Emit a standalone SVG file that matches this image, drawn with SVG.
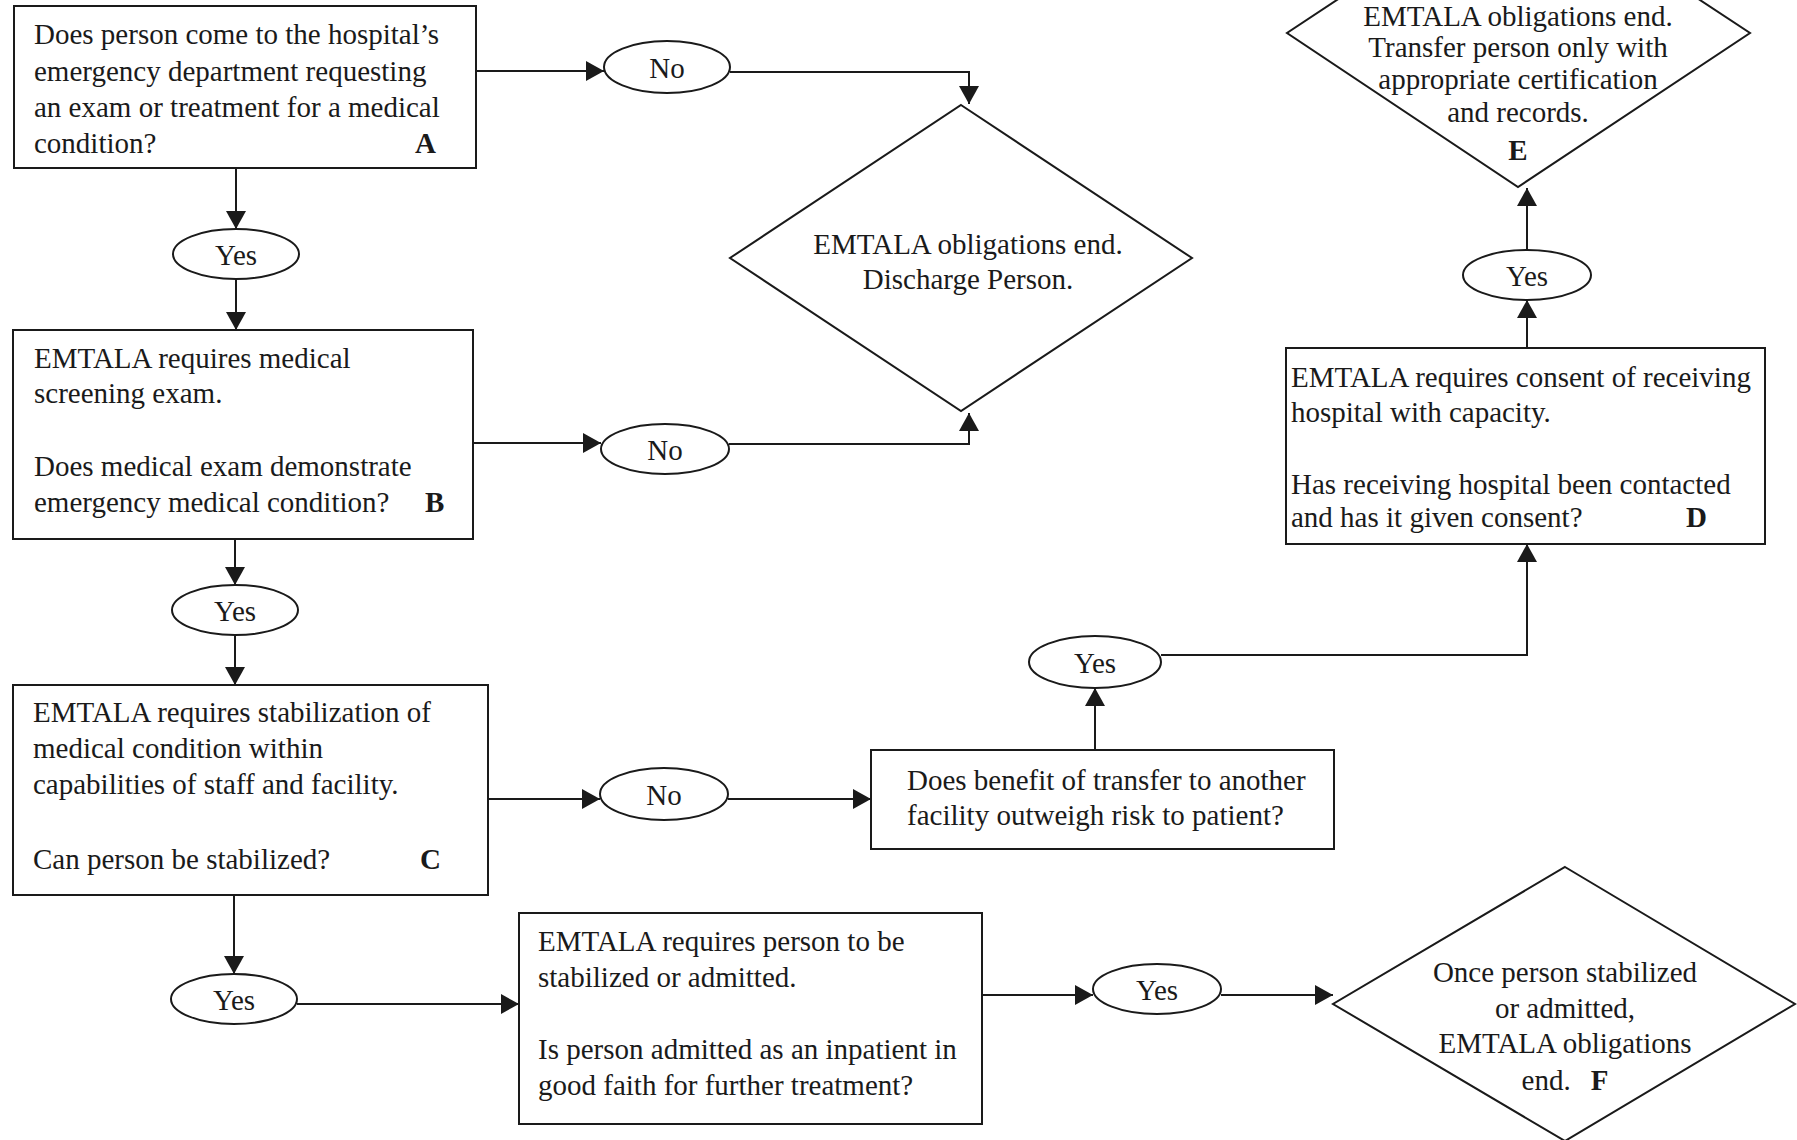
<svg xmlns="http://www.w3.org/2000/svg" width="1797" height="1140" viewBox="0 0 1797 1140">
<style>
  .bg { fill: #ffffff; }
  .shape { fill: #ffffff; stroke: #1a1a1a; stroke-width: 2; }
  .conn { fill: none; stroke: #1a1a1a; stroke-width: 2; marker-end: url(#ah); }
  text { font-family: "Liberation Serif", "Times New Roman", serif; font-size: 29px; fill: #1a1a1a; }
  .c { text-anchor: middle; }
  .b { font-weight: bold; }
</style>
<defs>
  <marker id="ah" viewBox="0 0 18 20" refX="18" refY="10" markerWidth="18" markerHeight="20" markerUnits="userSpaceOnUse" orient="auto">
    <path d="M0,0 L18,10 L0,20 z" fill="#1a1a1a"/>
  </marker>
</defs>
<rect class="bg" x="0" y="0" width="1797" height="1140"/>

<g id="connectors">
  <path class="conn" d="M476,71 H604"/>
  <path class="conn" d="M730,72 H969 V104"/>
  <path class="conn" d="M236,168 V229"/>
  <path class="conn" d="M236,279 V330"/>
  <path class="conn" d="M473,443 H601"/>
  <path class="conn" d="M729,444 H969 V413"/>
  <path class="conn" d="M235,539 V585"/>
  <path class="conn" d="M235,635 V685"/>
  <path class="conn" d="M488,799 H600"/>
  <path class="conn" d="M728,799 H871"/>
  <path class="conn" d="M1095,750 V688"/>
  <path class="conn" d="M1161,655 H1527 V544"/>
  <path class="conn" d="M1527,348 V300"/>
  <path class="conn" d="M1527,250 V188"/>
  <path class="conn" d="M234,895 V974"/>
  <path class="conn" d="M297,1004 H519"/>
  <path class="conn" d="M982,995 H1093"/>
  <path class="conn" d="M1221,995 H1333"/>
</g>

<g id="nodeA">
  <rect class="shape" x="14" y="6" width="462" height="162"/>
  <text x="34" y="44">Does person come to the hospital’s</text>
  <text x="34" y="81">emergency department requesting</text>
  <text x="34" y="117">an exam or treatment for a medical</text>
  <text x="34" y="153">condition?</text>
  <text class="b" x="415" y="153">A</text>
</g>

<g id="no1">
  <ellipse class="shape" cx="667" cy="67" rx="63" ry="26"/>
  <text class="c" x="667" y="78">No</text>
</g>

<g id="discharge">
  <polygon class="shape" points="961,105 1192,258 961,411 730,258"/>
  <text class="c" x="968" y="254">EMTALA obligations end.</text>
  <text class="c" x="968" y="289">Discharge Person.</text>
</g>

<g id="yes1">
  <ellipse class="shape" cx="236" cy="254" rx="63" ry="25"/>
  <text class="c" x="236" y="265">Yes</text>
</g>

<g id="nodeB">
  <rect class="shape" x="13" y="330" width="460" height="209"/>
  <text x="34" y="368">EMTALA requires medical</text>
  <text x="34" y="403">screening exam.</text>
  <text x="34" y="476">Does medical exam demonstrate</text>
  <text x="34" y="512">emergency medical condition?</text>
  <text class="b" x="425" y="512">B</text>
</g>

<g id="no2">
  <ellipse class="shape" cx="665" cy="449" rx="64" ry="25"/>
  <text class="c" x="665" y="460">No</text>
</g>

<g id="yes2">
  <ellipse class="shape" cx="235" cy="610" rx="63" ry="25"/>
  <text class="c" x="235" y="621">Yes</text>
</g>

<g id="nodeC">
  <rect class="shape" x="13" y="685" width="475" height="210"/>
  <text x="33" y="722">EMTALA requires stabilization of</text>
  <text x="33" y="758">medical condition within</text>
  <text x="33" y="794">capabilities of staff and facility.</text>
  <text x="33" y="869">Can person be stabilized?</text>
  <text class="b" x="420" y="869">C</text>
</g>

<g id="no3">
  <ellipse class="shape" cx="664" cy="794" rx="64" ry="26"/>
  <text class="c" x="664" y="805">No</text>
</g>

<g id="transferQ">
  <rect class="shape" x="871" y="750" width="463" height="99"/>
  <text x="907" y="790">Does benefit of transfer to another</text>
  <text x="907" y="825">facility outweigh risk to patient?</text>
</g>

<g id="yes3">
  <ellipse class="shape" cx="1095" cy="662" rx="66" ry="26"/>
  <text class="c" x="1095" y="673">Yes</text>
</g>

<g id="nodeD">
  <rect class="shape" x="1286" y="348" width="479" height="196"/>
  <text x="1291" y="387">EMTALA requires consent of receiving</text>
  <text x="1291" y="422">hospital with capacity.</text>
  <text x="1291" y="494">Has receiving hospital been contacted</text>
  <text x="1291" y="527">and has it given consent?</text>
  <text class="b" x="1686" y="527">D</text>
</g>

<g id="yes6">
  <ellipse class="shape" cx="1527" cy="275" rx="64" ry="25"/>
  <text class="c" x="1527" y="286">Yes</text>
</g>

<g id="nodeE">
  <polygon class="shape" points="1518,-120 1750,33 1518,187 1287,33"/>
  <text class="c" x="1518" y="26">EMTALA obligations end.</text>
  <text class="c" x="1518" y="57">Transfer person only with</text>
  <text class="c" x="1518" y="89">appropriate certification</text>
  <text class="c" x="1518" y="122">and records.</text>
  <text class="c b" x="1518" y="160">E</text>
</g>

<g id="yes4">
  <ellipse class="shape" cx="234" cy="999" rx="63" ry="25"/>
  <text class="c" x="234" y="1010">Yes</text>
</g>

<g id="admitQ">
  <rect class="shape" x="519" y="913" width="463" height="211"/>
  <text x="538" y="951">EMTALA requires person to be</text>
  <text x="538" y="987">stabilized or admitted.</text>
  <text x="538" y="1059">Is person admitted as an inpatient in</text>
  <text x="538" y="1095">good faith for further treatment?</text>
</g>

<g id="yes5">
  <ellipse class="shape" cx="1157" cy="989" rx="64" ry="25"/>
  <text class="c" x="1157" y="1000">Yes</text>
</g>

<g id="nodeF">
  <polygon class="shape" points="1565,867 1795,1004 1565,1141 1333,1004"/>
  <text class="c" x="1565" y="982">Once person stabilized</text>
  <text class="c" x="1565" y="1018">or admitted,</text>
  <text class="c" x="1565" y="1053">EMTALA obligations</text>
  <text class="c" x="1565" y="1090">end.<tspan class="b" dx="20">F</tspan></text>
</g>
</svg>
